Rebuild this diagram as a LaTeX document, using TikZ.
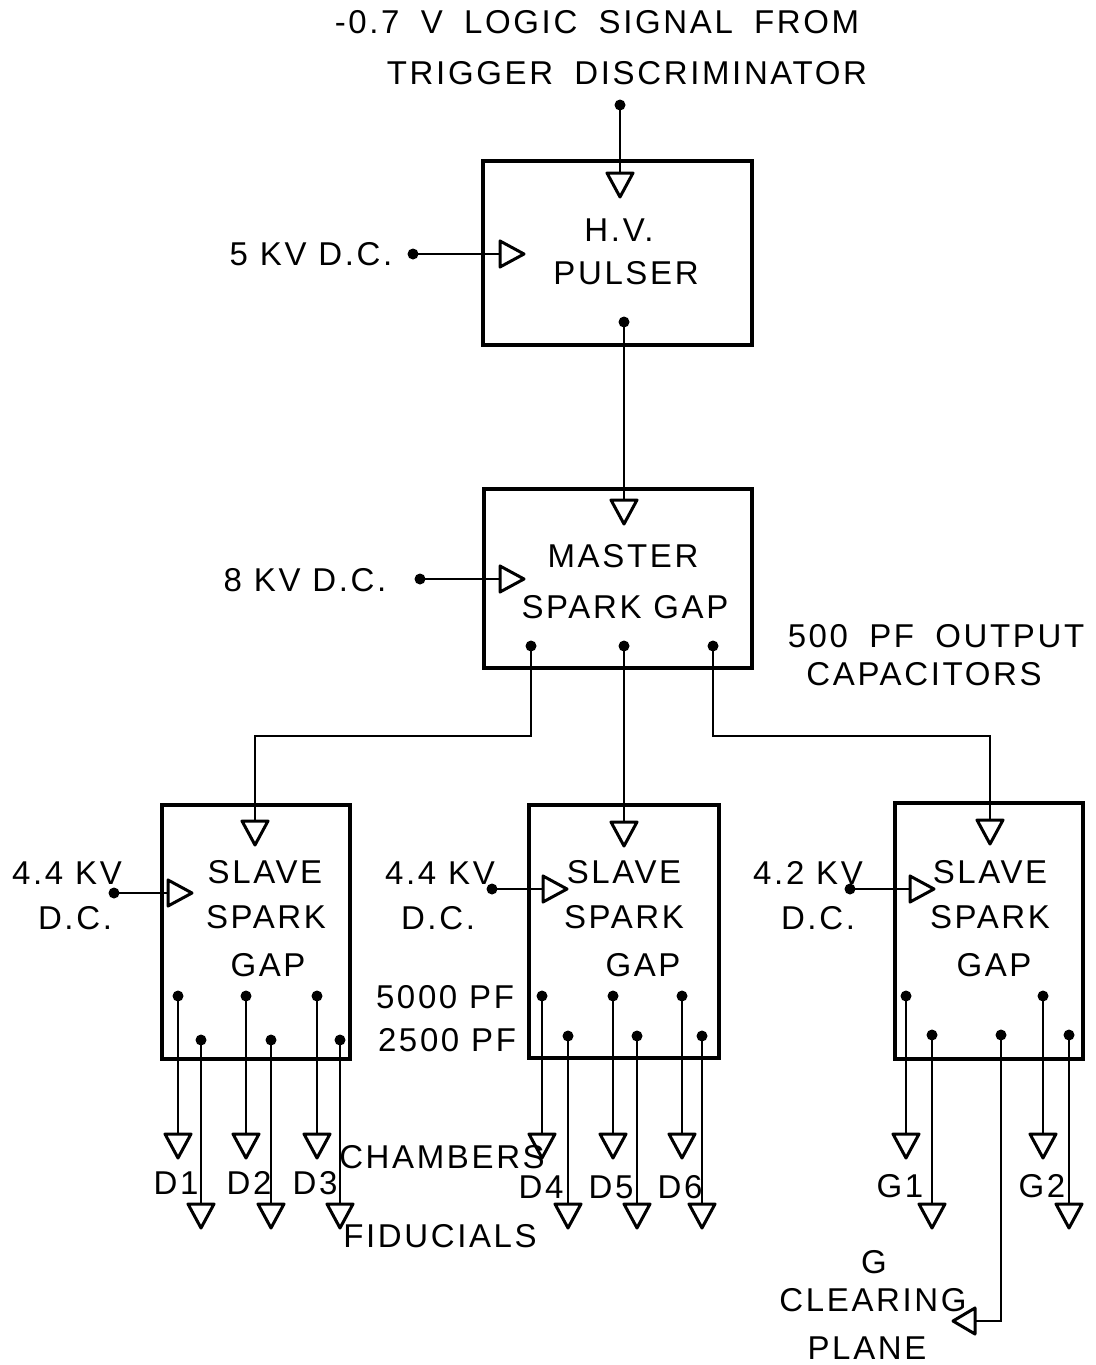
\documentclass[tikz,border=0pt]{standalone}
\usepackage{fontspec}
\setmainfont{Liberation Sans}[LetterSpace=8]
\newfontfamily\widefont{Liberation Sans}[LetterSpace=8,WordSpace=1.8]
\begin{document}
\begin{tikzpicture}[x=1pt,y=-1pt,
  box/.style={draw, line width=3.5pt, inner sep=0pt},
  wire/.style={line width=2pt},
  tri/.style={line width=3pt, line join=round},
  lbl/.style={font=\fontsize{33}{38}\selectfont, inner sep=0pt},
  wide/.style={font=\fontsize{33}{38}\widefont},
  tridn/.pic={\draw[tri] (-13,0) -- (13,0) -- (0,24) -- cycle;},
  trirt/.pic={\draw[tri] (0,-13) -- (0,13) -- (24,0) -- cycle;},
  trilt/.pic={\draw[tri] (0,-13) -- (0,13) -- (-22,0) -- cycle;}]
\useasboundingbox (0,0) rectangle (1095,1365);
\fill[white] (0,0) rectangle (1095,1365);

% boxes
\node[box, minimum width=269pt, minimum height=184pt] (hv) at (617.5,253) {};
\node[box, minimum width=268pt, minimum height=179pt] (ms) at (618,578.5) {};
\node[box, minimum width=188pt, minimum height=254pt] (s1) at (256,932) {};
\node[box, minimum width=190pt, minimum height=253pt] (s2) at (624,931.5) {};
\node[box, minimum width=188pt, minimum height=256pt] (s3) at (989,931) {};

% texts
\node[lbl, wide] (t1) at (597,22) {-0.7 V LOGIC SIGNAL FROM};
\node[lbl, wide] (t2) at (627,73) {TRIGGER DISCRIMINATOR};
\node[lbl] (hv1) at (619,230) {H.V.};
\node[lbl] (hv2) at (626,273) {PULSER};
\node[lbl] (kv5) at (311,254) {5 KV D.C.};
\node[lbl] (ms1) at (623,556) {MASTER};
\node[lbl] (ms2) at (625,607) {SPARK GAP};
\node[lbl] (kv8) at (305,580) {8 KV D.C.};
\node[lbl, wide] (oc1) at (936,636) {500 PF OUTPUT};
\node[lbl] (oc2) at (924,674) {CAPACITORS};
\node[lbl] (a1) at (67,873) {4.4 KV};
\node[lbl] (a2) at (75,918) {D.C.};
\node[lbl] (b1) at (440,873) {4.4 KV};
\node[lbl] (b2) at (438,918) {D.C.};
\node[lbl] (c1) at (808,873) {4.2 KV};
\node[lbl] (c2) at (818,918) {D.C.};
\node[lbl] (sa1) at (265,872) {SLAVE};
\node[lbl] (sa2) at (266,917) {SPARK};
\node[lbl] (sa3) at (268,965) {GAP};
\node[lbl] (sb1) at (624,872) {SLAVE};
\node[lbl] (sb2) at (624,917) {SPARK};
\node[lbl] (sb3) at (643,965) {GAP};
\node[lbl] (sc1) at (990,872) {SLAVE};
\node[lbl] (sc2) at (990,917) {SPARK};
\node[lbl] (sc3) at (994,965) {GAP};
\node[lbl] (pf1) at (445,997) {5000 PF};
\node[lbl] (pf2) at (447,1040) {2500 PF};
\node[lbl] (d1) at (176,1183) {D1};
\node[lbl] (d2) at (249,1183) {D2};
\node[lbl] (d3) at (315,1183) {D3};
\node[lbl] (ch) at (442,1157) {CHAMBERS};
\node[lbl] (fi) at (440,1236) {FIDUCIALS};
\node[lbl] (d4) at (541,1187) {D4};
\node[lbl] (d5) at (611,1187) {D5};
\node[lbl] (d6) at (680,1187) {D6};
\node[lbl] (g1) at (900,1186) {G1};
\node[lbl] (g2) at (1042,1186) {G2};
\node[lbl] (gg) at (874,1262) {G};
\node[lbl] (gc) at (873,1300) {CLEARING};
\node[lbl] (gp) at (867,1348) {PLANE};

% top signal
\coordinate (sig) at (620,105); \coordinate (sigin) at (620,173);
\draw[wire] (sig) -- (sigin); \pic at (sigin) {tridn}; \fill (sig) circle (5.5);
% 5 KV
\coordinate (p5) at (413,254); \coordinate (p5in) at (500,254);
\draw[wire] (p5) -- (p5in); \pic at (p5in) {trirt}; \fill (p5) circle (5.5);
% HV to master
\coordinate (hvo) at (624,322); \coordinate (msin) at (624,500);
\draw[wire] (hvo) -- (msin); \pic at (msin) {tridn}; \fill (hvo) circle (5.5);
% 8 KV
\coordinate (p8) at (420,579); \coordinate (p8in) at (500,579);
\draw[wire] (p8) -- (p8in); \pic at (p8in) {trirt}; \fill (p8) circle (5.5);
% master outputs
\coordinate (m1) at (531,646); \coordinate (m2) at (624,646); \coordinate (m3) at (713,646);
\coordinate (s1in) at (255,821); \coordinate (s2in) at (624,822); \coordinate (s3in) at (990,820);
\draw[wire] (m1) -- (531,736) -| (s1in);
\draw[wire] (m2) -- (s2in);
\draw[wire] (m3) -- (713,736) -| (s3in);
\pic at (s1in) {tridn}; \pic at (s2in) {tridn}; \pic at (s3in) {tridn};
\fill (m1) circle (5.5); \fill (m2) circle (5.5); \fill (m3) circle (5.5);
% slave HV inputs
\coordinate (q1) at (114,893); \coordinate (q1in) at (168,893);
\coordinate (q2) at (492,889); \coordinate (q2in) at (543,889);
\coordinate (q3) at (850,889); \coordinate (q3in) at (910,889);
\draw[wire] (q1) -- (q1in); \draw[wire] (q2) -- (q2in); \draw[wire] (q3) -- (q3in);
\pic at (q1in) {trirt}; \pic at (q2in) {trirt}; \pic at (q3in) {trirt};
\fill (q1) circle (5.5); \fill (q2) circle (5.5); \fill (q3) circle (5.5);

% slave outputs: chambers (upper) and fiducials (lower)
\foreach \x/\n in {178/u1,246/u2,317/u3,542/u4,613/u5,682/u6,906/u7,1043/u8}{
  \coordinate (\n) at (\x,996);
  \coordinate (\n t) at (\x,1134);
  \draw[wire] (\n) -- (\n t);
  \pic at (\n t) {tridn};
  \fill (\n) circle (5.5);
}
\foreach \x/\y/\n in {201/1040/l1,271/1040/l2,340/1040/l3,568/1036/l4,637/1036/l5,702/1036/l6,932/1035/l7,1069/1035/l8}{
  \coordinate (\n) at (\x,\y);
  \coordinate (\n t) at (\x,1204);
  \draw[wire] (\n) -- (\n t);
  \pic at (\n t) {tridn};
  \fill (\n) circle (5.5);
}
% clearing plane
\coordinate (cl) at (1001,1035); \coordinate (clt) at (975,1321);
\draw[wire] (cl) |- (clt); \pic at (clt) {trilt}; \fill (cl) circle (5.5);
\end{tikzpicture}
\end{document}
